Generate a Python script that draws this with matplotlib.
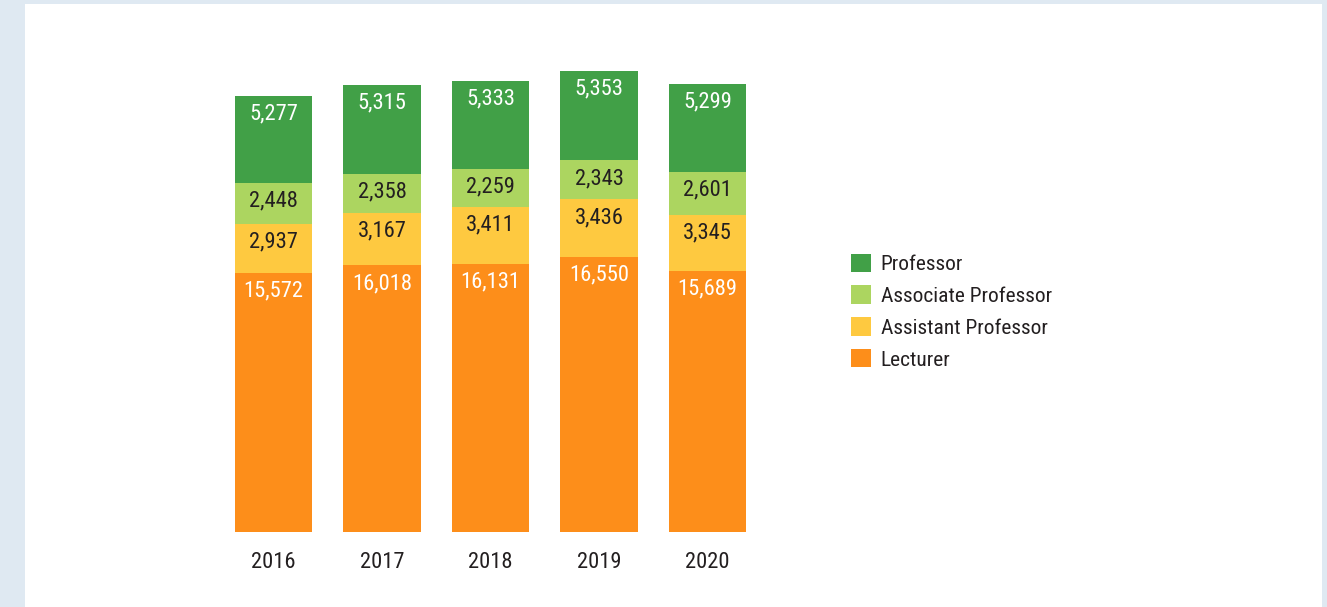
import matplotlib.pyplot as plt
from matplotlib.patches import Rectangle
from matplotlib.font_manager import fontManager

# font: narrow face if there is one
names = set(f.name for f in fontManager.ttflist)
fam = [f for f in ['Liberation Sans Narrow', 'Roboto Condensed', 'Roboto', 'DejaVu Sans'] if f in names]
plt.rcParams['font.family'] = fam

# data
years = ['2016', '2017', '2018', '2019', '2020']
lecturer = [15572, 16018, 16131, 16550, 15689]
assistant = [2937, 3167, 3411, 3436, 3345]
associate = [2448, 2358, 2259, 2343, 2601]
professor = [5277, 5315, 5333, 5353, 5299]

series = [
    ('Lecturer', lecturer, '#fd8e1a', 'white'),
    ('Assistant Professor', assistant, '#fec940', '#231f20'),
    ('Associate Professor', associate, '#acd560', '#231f20'),
    ('Professor', professor, '#41a047', 'white'),
]

W, H = 1327, 607
fig = plt.figure(figsize=(W / 100, H / 100), dpi=100, facecolor='#dfe9f2')
fig.patches.append(Rectangle((25 / W, 0), 1297 / W, 603 / H, transform=fig.transFigure,
                             facecolor='white', edgecolor='none', zorder=-5))

ax = fig.add_axes([219.25 / W, 75 / H, 542.5 / W, 492 / H])
ax.set_facecolor('none')
ax.set_zorder(2)
x = list(range(len(years)))
bottom = [0] * len(years)
handles = []
for name, vals, col, tcol in series:
    b = ax.bar(x, vals, 0.71, bottom=bottom, color=col, label=name, linewidth=0)
    handles.append(b)
    for xi, v, bt in zip(x, vals, bottom):
        ax.annotate(f'{v:,}', (xi, bt + v), xytext=(0, -18), textcoords='offset pixels',
                    ha='center', va='center', color=tcol, fontsize=16.2)
    bottom = [bt + v for bt, v in zip(bottom, vals)]

ax.set_xlim(-0.5, 4.5)
ax.set_ylim(0, 29570)
ax.set_xticks(x)
ax.set_xticklabels(years, fontsize=16.2, color='#231f20')
ax.tick_params(axis='x', length=0, pad=14.5)
ax.set_yticks([])
for s in ax.spines.values():
    s.set_visible(False)

leg = fig.legend(handles[::-1], [s[0] for s in series][::-1], loc='upper left',
                 bbox_to_anchor=(851 / W, 1 - 253.5 / H), frameon=False, fontsize=15.4,
                 handlelength=0.94, handleheight=0.94, handletextpad=0.44, labelspacing=0.53,
                 borderpad=0, borderaxespad=0, labelcolor='#231f20')
leg.set_zorder(3)

fig.savefig('out.png', dpi=100, facecolor=fig.get_facecolor())
